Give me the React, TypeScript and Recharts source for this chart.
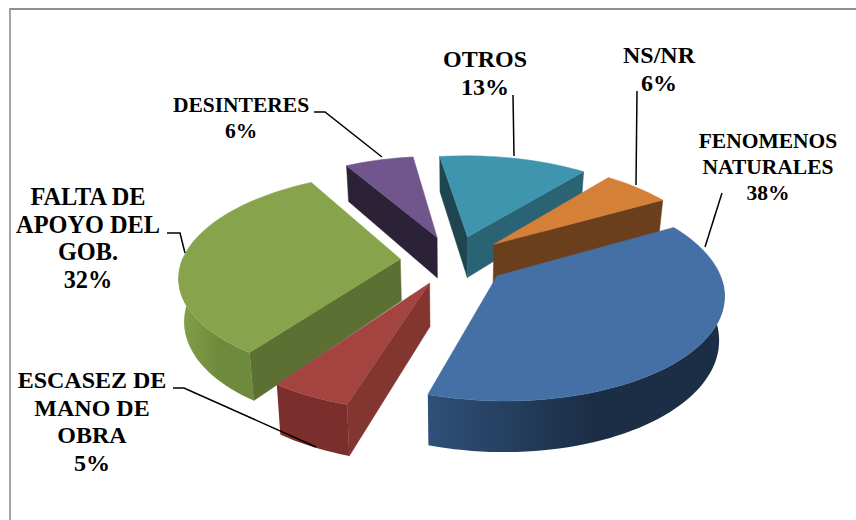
import { PieChart, Pie } from 'recharts';

// clockwise, starting with the slice that has to be painted first
const categories = ['FALTA DE APOYO DEL GOB.', 'DESINTERES', 'OTROS', 'NS/NR', 'FENOMENOS NATURALES', 'ESCASEZ DE MANO DE OBRA'];
const percents = [32, 6, 13, 6, 38, 5];
const labelLines = [
  ['FALTA DE', 'APOYO DEL', 'GOB.'],
  ['DESINTERES'],
  ['OTROS'],
  ['NS/NR'],
  ['FENOMENOS', 'NATURALES'],
  ['ESCASEZ DE', 'MANO DE', 'OBRA'],
];

const topColors = ['#87a44c', '#70568c', '#3f95ae', '#d48039', '#4570a6', '#a44441'];
const startWallColors = ['#5d7033', '#2c2238', '#1f4650', '#6b3f1c', '#1b2e45', '#833530'];
const endWallColors = ['#5d7033', '#2c2238', '#2a6373', '#6b3f1c', '#1b2e45', '#833530'];
const rimLeftColors = ['#85a14a', '#2c2238', '#1f4650', '#6b3f1c', '#2f5078', '#7a2f2c'];
const rimRightColors = ['#6e8a3c', '#2c2238', '#2a6373', '#6b3f1c', '#1b2e45', '#7a2f2c'];

// label placement: centre x, first baseline, line height, font size
const labelBoxes = [
  { x: 88, y: 205, lh: 27.7, size: 24.3 },
  { x: 241, y: 112, lh: 26, size: 21.5 },
  { x: 485, y: 67, lh: 28, size: 24 },
  { x: 659, y: 63, lh: 28, size: 24 },
  { x: 768, y: 148, lh: 26, size: 21.5 },
  { x: 92, y: 388, lh: 27.7, size: 24 },
];
const leaders = [
  '167,233 180,233 185,253',
  '314,112 325,112 382,157',
  '513,95 514,156',
  '637,91 636,185',
  '722,193 705,247',
  '173,388 184,388 316,447',
];

const CX = 454;
const CY = 260;
const RADIUS = 218;
const FLATTEN = 0.46; // vertical squash of the pie plane
const PERSPECTIVE = 0.155;
const EXPLODE = 0.247;
const DEPTH = 42;
const START_ANGLE = 235;

const rows = categories.map((name, i) => ({ name, value: percents[i], i }));

const rad = (a: number) => (a * Math.PI) / 180;

// pie plane (unit radius) to screen, z = 0 top face, z = 1 bottom face
function project(u: number, v: number, z: number, cx: number, cy: number, r: number) {
  const f = 1 / (1 + PERSPECTIVE * v);
  return {
    x: cx + r * u * f * (1 - 0.02 * z),
    y: cy - r * FLATTEN * v * f + DEPTH * z * f,
  };
}

const pts = (list: { x: number; y: number }[]) => list.map((p) => `${p.x.toFixed(1)},${p.y.toFixed(1)}`).join(' ');

function sideOf(a: any, b: any, c: any) {
  return (b.x - a.x) * (c.y - a.y) - (b.y - a.y) * (c.x - a.x);
}

function Slice3D(props: any) {
  const { cx, cy, outerRadius, startAngle, endAngle, payload } = props;
  const i = payload.i;
  const mid = rad((startAngle + endAngle) / 2);
  const ou = EXPLODE * Math.cos(mid);
  const ov = EXPLODE * Math.sin(mid);
  const at = (angle: number, z: number) =>
    project(ou + Math.cos(rad(angle)), ov + Math.sin(rad(angle)), z, cx, cy, outerRadius);
  const vertex = (z: number) => project(ou, ov, z, cx, cy, outerRadius);

  const angles: number[] = [];
  const steps = Math.max(6, Math.ceil((startAngle - endAngle) / 2));
  for (let s = 0; s <= steps; s++) angles.push(startAngle + ((endAngle - startAngle) * s) / steps);

  const top = [vertex(0), ...angles.map((a) => at(a, 0))];
  const V = vertex(0);
  const midRim = at((startAngle + endAngle) / 2, 0);
  const below = { x: V.x, y: V.y + 10 };

  // a radial wall only shows if the top face lies on the other side of its edge
  const wall = (angle: number, fill: string) => {
    const rim = at(angle, 0);
    if (sideOf(V, rim, midRim) * sideOf(V, rim, below) >= 0) return null;
    return <polygon points={pts([V, rim, at(angle, 1), vertex(1)])} fill={fill} stroke={fill} strokeWidth={0.5} />;
  };

  const front = angles.filter((a) => Math.sin(rad(a)) < 0.02);
  const rim = front.length > 1 ? [...front.map((a) => at(a, 0)), ...[...front].reverse().map((a) => at(a, 1))] : null;
  const gradId = `rim-${i}`;

  return (
    <g>
      <defs>
        <linearGradient id={gradId} x1="0" y1="0" x2="1" y2="0">
          <stop offset="0%" stopColor={rimLeftColors[i]} />
          <stop offset="55%" stopColor={rimRightColors[i]} />
          <stop offset="100%" stopColor={rimRightColors[i]} />
        </linearGradient>
      </defs>
      {wall(startAngle, startWallColors[i])}
      {wall(endAngle, endWallColors[i])}
      {rim && <polygon points={pts(rim)} fill={`url(#${gradId})`} />}
      <polygon points={pts(top)} fill={topColors[i]} stroke={topColors[i]} strokeWidth={0.5} />
    </g>
  );
}

function SliceLabel(props: any) {
  const i = props.payload?.i ?? props.index;
  const box = labelBoxes[i];
  const lines = [...labelLines[i], `${percents[i]}%`];
  return (
    <g>
      <polyline points={leaders[i]} fill="none" stroke="#000" strokeWidth={1.5} />
      <text textAnchor="middle" fontFamily="'Liberation Serif', serif" fontWeight="bold" fontSize={box.size} fill="#000">
        {lines.map((line, n) => (
          <tspan key={n} x={box.x} y={box.y + n * box.lh}>{line}</tspan>
        ))}
      </text>
    </g>
  );
}

export default function App() {
  return (
    <div style={{ position: 'absolute', left: 0, top: 0, width: 856, height: 520, background: '#fff', overflow: 'hidden' }}>
      <div style={{ position: 'absolute', left: 9, top: 8, width: 860, height: 530, borderLeft: '2px solid #a3a3a3', borderTop: '2px solid #8e8e8e' }} />
      <div style={{ position: 'absolute', left: 0, top: 0 }}>
        <PieChart width={856} height={520} margin={{ top: 0, right: 0, bottom: 0, left: 0 }}>
          <Pie
            data={rows}
            dataKey="value"
            nameKey="name"
            cx={CX}
            cy={CY}
            innerRadius={0}
            outerRadius={RADIUS}
            startAngle={START_ANGLE}
            endAngle={START_ANGLE - 360}
            stroke="none"
            shape={Slice3D}
            label={SliceLabel}
            labelLine={false}
            isAnimationActive={false}
          />
        </PieChart>
      </div>
    </div>
  );
}
